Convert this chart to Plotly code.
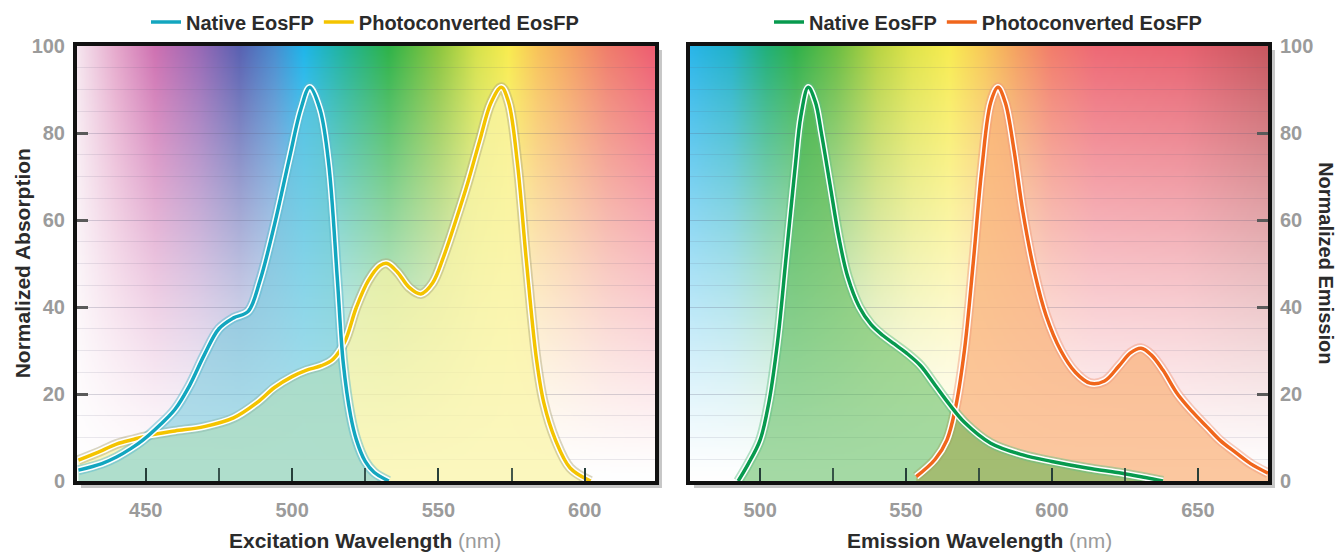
import zlib, struct, base64
import numpy as np
import plotly.graph_objects as go
from plotly.subplots import make_subplots

# ---------------- data ----------------
exc_native_nm = [427, 435, 440, 445, 449, 455, 460, 465, 470, 475, 480, 485, 489, 494, 499,
                 503, 506, 509.5, 512.5, 515.5, 517.5, 520, 522, 525, 528, 533]
exc_native_val = [2.5, 4, 5.5, 7.5, 9.4, 13, 16.5, 22, 29, 35, 37.5, 39, 46, 59, 74,
                  85.5, 90.5, 85.5, 73, 46, 27, 15, 9.4, 4.5, 2, 0]

exc_photo_nm = [427, 435, 440, 446, 452, 460, 470, 480, 488, 494, 500, 505, 510, 514, 518,
                522, 526, 530, 532.5, 536, 540, 544, 548, 552, 556, 560, 564, 568, 571.5,
                574, 577, 580, 583.5, 586, 590, 595, 602]
exc_photo_val = [4.8, 7, 8.5, 9.6, 10.6, 11.5, 12.5, 14.5, 18, 21.5, 24, 25.5, 26.5, 28, 32,
                 40, 46, 49.5, 50, 48, 44.5, 43, 45.5, 52, 60, 68.5, 78, 87, 90.5,
                 87, 73, 51, 28, 18, 9.4, 3, 0]

em_native_nm = [492.5, 496, 500, 503, 506, 509, 512, 514, 516.5, 519, 521, 524, 527, 530,
                534, 538, 542, 546, 550, 555, 560, 565, 570, 579, 590, 600, 612, 624, 632, 638]
em_native_val = [0, 4, 9.4, 18, 32, 52, 72, 84, 90.5, 87, 80, 68, 56, 47,
                 40, 36, 33.5, 31.5, 29.5, 26.5, 22, 17.5, 13.5, 8.7, 6, 4.5, 3, 1.8, 0.8, 0]

em_photo_nm = [553.5, 560, 564, 567, 570, 573, 576, 579, 581.5, 584, 587, 590, 594, 598, 603,
               608, 613, 618, 623, 627, 630.5, 634, 638, 643, 648, 653, 657.5, 663, 668, 674]
em_photo_val = [1, 5, 9.4, 17, 30, 50, 72, 87, 90.5, 87, 76, 62, 48, 38, 30,
                25, 22.5, 23, 26.5, 29.5, 30.5, 29, 25.5, 20, 16, 12.5, 9.4, 6.5, 4, 1.8]

y_ticks = [0, 20, 40, 60, 80, 100]
exc_ticks = [450, 500, 550, 600]
em_ticks = [500, 550, 600, 650]
series_names = ["Native EosFP", "Photoconverted EosFP"]

EXC_RANGE = [426.5, 624]
EM_RANGE = [476, 674]

# ---------------- background spectrum image ----------------
def hex2rgb(h):
    h = h.lstrip('#')
    return [int(h[i:i + 2], 16) for i in (0, 2, 4)]

def png_uri(arr):
    h, w, _ = arr.shape
    raw = b''.join(b'\x00' + arr[i].tobytes() for i in range(h))

    def chunk(t, d):
        c = struct.pack('>I', len(d)) + t + d
        return c + struct.pack('>I', zlib.crc32(t + d) & 0xffffffff)
    png = (b'\x89PNG\r\n\x1a\n'
           + chunk(b'IHDR', struct.pack('>IIBBBBB', w, h, 8, 2, 0, 0, 0))
           + chunk(b'IDAT', zlib.compress(raw, 9))
           + chunk(b'IEND', b''))
    return 'data:image/png;base64,' + base64.b64encode(png).decode()

def spectrum_image(rng, stops, w=400, h=200):
    xs = np.linspace(rng[0], rng[1], w)
    pos = [s[0] for s in stops]
    cols = np.array([hex2rgb(s[1]) for s in stops], dtype=float)
    row = np.stack([np.interp(xs, pos, cols[:, c]) for c in range(3)], axis=1)
    v = np.linspace(100, 0, h)
    a = np.clip(v / 100.0, 0, 1) ** 1.25
    img = 255 * (1 - a[:, None, None]) + row[None, :, :] * a[:, None, None]
    return png_uri(np.clip(img, 0, 255).astype(np.uint8))

exc_stops = [(426.5, '#f6e6ef'), (440, '#e6a8cc'), (453, '#cf72b2'), (468, '#9a6ab6'),
             (482, '#5a62b2'), (494, '#4a8ed0'), (504, '#1fb6ea'), (518, '#22b49a'),
             (533, '#2fb34a'), (550, '#8cc640'), (563, '#d6e24c'), (574, '#f8ec50'),
             (584, '#f8c45a'), (595, '#f5a462'), (608, '#f07e6c'), (624, '#ee5e72')]
em_stops = [(476, '#2ab6ea'), (490, '#22b2c8'), (502, '#22b07a'), (512, '#30b14c'),
            (526, '#6cbe44'), (540, '#b8d444'), (552, '#e0e44c'), (565, '#f8ec52'),
            (577, '#f8c85a'), (588, '#f5a262'), (600, '#f27e6c'), (615, '#ee6a76'),
            (645, '#e86472'), (674, '#c85860')]

# ---------------- figure ----------------
fig = make_subplots(rows=1, cols=2, horizontal_spacing=0.0294)
SPL = dict(shape='spline', smoothing=1.0)

def add_fill(nm, val, col, outline_col, fill_col):
    fig.add_trace(go.Scatter(x=nm, y=val, mode='lines', fill='tozeroy', fillcolor=fill_col,
                             line=dict(color=outline_col, width=10, **SPL),
                             hoverinfo='skip', showlegend=False), row=1, col=col)

def add_line(nm, val, col, line_col, name, legend):
    fig.add_trace(go.Scatter(x=nm, y=val, mode='lines',
                             line=dict(color='white', width=6.5, **SPL),
                             hoverinfo='skip', showlegend=False), row=1, col=col)
    fig.add_trace(go.Scatter(x=nm, y=val, mode='lines', name=name, legend=legend,
                             legendrank=series_names.index(name) + 1,
                             line=dict(color=line_col, width=3.5, **SPL)),
                  row=1, col=col)

add_fill(exc_photo_nm, exc_photo_val, 1, 'rgba(170,165,120,0.45)', 'rgba(250,244,165,0.72)')
add_fill(exc_native_nm, exc_native_val, 1, 'rgba(90,185,205,0.5)', 'rgba(100,198,218,0.5)')
add_fill(em_photo_nm, em_photo_val, 2, 'rgba(240,150,120,0.45)', 'rgba(250,178,122,0.72)')
add_fill(em_native_nm, em_native_val, 2, 'rgba(90,190,130,0.45)', 'rgba(66,178,66,0.48)')

add_line(exc_photo_nm, exc_photo_val, 1, '#f4c400', series_names[1], 'legend')
add_line(exc_native_nm, exc_native_val, 1, '#13a6bf', series_names[0], 'legend')
add_line(em_photo_nm, em_photo_val, 2, '#f0661c', series_names[1], 'legend2')
add_line(em_native_nm, em_native_val, 2, '#079a4e', series_names[0], 'legend2')

img_exc = spectrum_image(EXC_RANGE, exc_stops)
img_em = spectrum_image(EM_RANGE, em_stops)
fig.add_layout_image(dict(source=img_exc, xref='x', yref='y', x=EXC_RANGE[0], y=100,
                          sizex=EXC_RANGE[1] - EXC_RANGE[0], sizey=100, sizing='stretch',
                          layer='below'))
fig.add_layout_image(dict(source=img_em, xref='x2', yref='y2', x=EM_RANGE[0], y=100,
                          sizex=EM_RANGE[1] - EM_RANGE[0], sizey=100, sizing='stretch',
                          layer='below'))

FONT = 'Liberation Sans, Arial, sans-serif'
tickfont = dict(family=FONT, size=20, color='#9b9b9b', weight='bold')
grid_col = 'rgba(95,90,120,0.13)'
DOM1 = [0, 0.4853]
DOM2 = [0.5147, 1]

xcommon = dict(showline=True, linewidth=4, linecolor='#111', mirror=True, automargin=False,
               ticks='inside', ticklen=13, tickwidth=2, tickcolor='rgba(35,60,55,0.85)',
               showgrid=False, zeroline=False, tickfont=tickfont, ticklabelstandoff=8)
fig.update_xaxes(range=EXC_RANGE, tickvals=exc_ticks,
                 minor=dict(tick0=450, dtick=25, ticks='inside', ticklen=13, tickwidth=2,
                            tickcolor='rgba(35,60,55,0.85)', showgrid=False),
                 domain=DOM1, **xcommon, row=1, col=1)
fig.update_xaxes(range=EM_RANGE, tickvals=em_ticks,
                 minor=dict(tick0=500, dtick=25, ticks='inside', ticklen=13, tickwidth=2,
                            tickcolor='rgba(35,60,55,0.85)', showgrid=False),
                 domain=DOM2, **xcommon, row=1, col=2)

ycommon = dict(range=[0, 100], tickvals=y_ticks, showline=True, linewidth=4, linecolor='#111',
               mirror=True, ticks='inside', ticklen=11, tickwidth=2.5, tickcolor='#5a5a5a',
               showgrid=True, gridcolor=grid_col, gridwidth=1, zeroline=False, automargin=False,
               tickfont=tickfont, ticklabelstandoff=4,
               minor=dict(dtick=5, tick0=0, showgrid=True, gridcolor=grid_col, gridwidth=1))
fig.update_yaxes(side='left', **ycommon, row=1, col=1)
fig.update_yaxes(side='right', **ycommon, row=1, col=2)

# soft drop shadow behind the frames
PW, PH = 1191.0, 435.0
shapes = []
for d in (DOM1, DOM2):
    shapes.append(dict(type='rect', xref='paper', yref='paper', layer='below',
                       x0=d[0] + 6 / PW, x1=d[1] + 5 / PW, y0=-5 / PH, y1=1 - 6 / PH,
                       line=dict(color='rgba(0,0,0,0.22)', width=4), fillcolor='rgba(0,0,0,0)'))

legfont = dict(family=FONT, size=20, color='#2b2b2b', weight='bold')
LEG_Y = 1 - 14 / 549.0
TITLE_FONT = dict(family=FONT, size=21, color='#2b2b2b')
fig.update_layout(
    width=1335, height=549,
    margin=dict(l=69, r=75, t=38, b=76, autoexpand=False),
    paper_bgcolor='white', plot_bgcolor='white',
    shapes=shapes,
    legend=dict(orientation='h', x=357 / 1335, xref='container', xanchor='center',
                y=LEG_Y, yref='container', yanchor='middle', font=legfont,
                bgcolor='rgba(0,0,0,0)', itemwidth=30, tracegroupgap=0),
    legend2=dict(orientation='h', x=980 / 1335, xref='container', xanchor='center',
                 y=LEG_Y, yref='container', yanchor='middle', font=legfont,
                 bgcolor='rgba(0,0,0,0)', itemwidth=30, tracegroupgap=0),
    annotations=[
        dict(text="<b>Excitation Wavelength</b> <span style='color:#9b9b9b'>(nm)</span>",
             xref='paper', yref='paper', x=0.2418, y=-0.136, showarrow=False,
             xanchor='center', yanchor='middle', font=TITLE_FONT),
        dict(text="<b>Emission Wavelength</b> <span style='color:#9b9b9b'>(nm)</span>",
             xref='paper', yref='paper', x=0.7574, y=-0.136, showarrow=False,
             xanchor='center', yanchor='middle', font=TITLE_FONT),
        dict(text="<b>Normalized Absorption</b>", xref='paper', yref='paper', x=-0.0455, y=0.5,
             textangle=-90, showarrow=False, xanchor='center', yanchor='middle',
             font=TITLE_FONT),
        dict(text="<b>Normalized Emission</b>", xref='paper', yref='paper', x=1.0490, y=0.5,
             textangle=90, showarrow=False, xanchor='center', yanchor='middle',
             font=dict(family=FONT, size=20, color='#2b2b2b')),
    ],
)

fig.write_html("out.html")
